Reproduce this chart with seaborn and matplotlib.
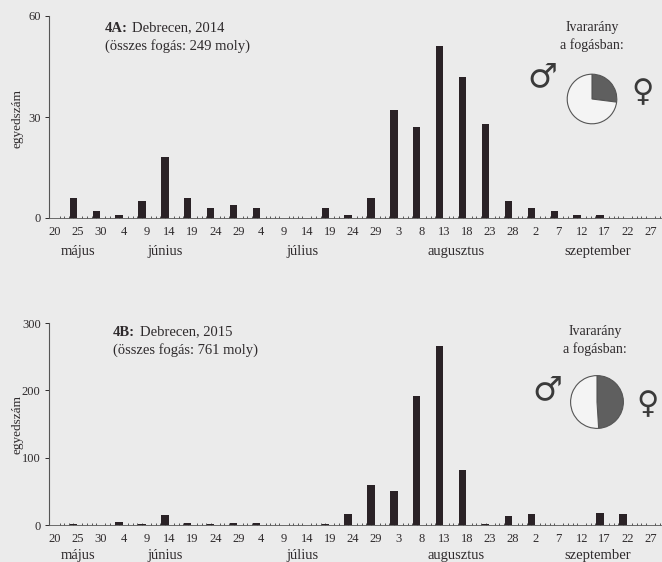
import numpy as np
import pandas as pd
import matplotlib
matplotlib.use("Agg")
import matplotlib.pyplot as plt
import seaborn as sns

# ---------------- data ----------------
tick_labels = ["20", "25", "30", "4", "9", "14", "19", "24", "29",
               "4", "9", "14", "19", "24", "29",
               "3", "8", "13", "18", "23", "28",
               "2", "7", "12", "17", "22", "27"]
month_names = ["május", "június", "július", "augusztus", "szeptember"]
counts_2014 = [0, 6, 2, 1, 5, 18, 6, 3, 4, 3, 0, 0, 3, 1, 6,
               32, 27, 51, 42, 28, 5, 3, 2, 1, 1, 0, 0]
counts_2015 = [0, 2, 0, 5, 1, 15, 3, 2, 3, 3, 0, 0, 1, 17, 60,
               51, 191, 266, 82, 1, 14, 17, 0, 0, 18, 16, 0]
female_share = [0.27, 0.49]   # 2014, 2015
titles = ["4A", "4B"]
subtitles = ["Debrecen, 2014", "Debrecen, 2015"]
totals = [249, 761]

# ---------------- style ----------------
BG = "#ebebeb"
INK = "#2e2a2c"
BAR = "#2a2226"
sns.set_theme(style="ticks")
plt.rcParams["font.family"] = ["Liberation Serif", "DejaVu Serif"]
plt.rcParams["text.color"] = INK
plt.rcParams["axes.labelcolor"] = INK
plt.rcParams["xtick.color"] = INK
plt.rcParams["ytick.color"] = INK
plt.rcParams["axes.edgecolor"] = "#555555"

W, H = 662, 562
fig = plt.figure(figsize=(W / 100, H / 100), dpi=100, facecolor=BG)

def fx(px):
    return px / W

def fy(py):
    return 1 - py / H

panels = [
    dict(counts=counts_2014, ymax=60, yticks=[0, 30, 60], y0=218, ytop=16,
         title_xy=(105, 28), ylab_y=118, month_y=252,
         ivar_xy=(592, 28), pie=(592, 99, 31), male=(542, 77), female=(643, 93)),
    dict(counts=counts_2015, ymax=300, yticks=[0, 100, 200, 300], y0=525, ytop=323,
         title_xy=(113, 332), ylab_y=425, month_y=555,
         ivar_xy=(595, 332), pie=(597, 402, 33), male=(547, 390), female=(648, 405)),
]

month_days = [5, 24, 54, 87.5, 118.5]
px_per_day = 4.58
x_left_px, x_right_px = 49, 661
tick0_px = 55
xmin = (x_left_px - tick0_px) / px_per_day
xmax = (x_right_px - tick0_px) / px_per_day

for k, p in enumerate(panels):
    ax = fig.add_axes([fx(x_left_px), fy(p["y0"]), fx(x_right_px - x_left_px),
                       (p["y0"] - p["ytop"]) / H])
    ax.set_facecolor("none")
    df = pd.DataFrame({
        "period": np.arange(len(tick_labels)),
        "n": p["counts"],
    })
    df["day"] = df["period"] * 5 - 1
    sns.barplot(data=df, x="day", y="n", native_scale=True, color=BAR,
                saturation=1, width=0.32, errorbar=None, linewidth=0, ax=ax)
    ax.set_xlim(xmin, xmax)
    ax.set_ylim(0, p["ymax"])
    ax.set_xticks(np.arange(len(tick_labels)) * 5)
    ax.set_xticklabels(tick_labels, fontsize=9)
    ax.set_xticks(np.arange(0, 133, 1), minor=True)
    ax.tick_params(axis="x", which="major", length=0, pad=6)
    ax.tick_params(axis="x", which="minor", length=1.6, width=0.7,
                   direction="in", color="#555555")
    ax.set_yticks(p["yticks"])
    ax.set_yticklabels([str(v) for v in p["yticks"]], fontsize=9)
    ax.tick_params(axis="y", length=3, width=0.7, pad=3)
    ax.spines["top"].set_visible(False)
    ax.spines["right"].set_visible(False)
    ax.spines["left"].set_linewidth(0.8)
    ax.spines["bottom"].set_linewidth(0.6)
    ax.set_xlabel("")
    ax.set_ylabel("")

    # y label
    fig.text(fx(18), fy(p["ylab_y"]), "egyedszám", rotation=90,
             ha="center", va="center", fontsize=9.5)
    # month labels
    for name, d in zip(month_names, month_days):
        fig.text(fx(tick0_px + d * px_per_day), fy(p["month_y"]), name,
                 ha="center", va="center", fontsize=10.5)

    # titles
    tx, ty = p["title_xy"]
    fig.text(fx(tx), fy(ty), titles[k] + ":", fontsize=10.5,
             fontweight="bold", ha="left", va="center")
    fig.text(fx(tx + 27), fy(ty), subtitles[k], fontsize=10.5,
             ha="left", va="center")
    fig.text(fx(tx), fy(ty + 18), f"(összes fogás: {totals[k]} moly)",
             fontsize=10.5, ha="left", va="center")

    # sex ratio
    ix, iy = p["ivar_xy"]
    fig.text(fx(ix), fy(iy), "Ivararány", fontsize=10, ha="center", va="center")
    fig.text(fx(ix), fy(iy + 17), "a fogásban:", fontsize=10, ha="center",
             va="center")
    cx, cy, r = p["pie"]
    pax = fig.add_axes([fx(cx - r), fy(cy + r), fx(2 * r), 2 * r / H])
    fs = female_share[k]
    pax.pie([fs, 1 - fs], colors=["#5f5f5f", "#f4f4f4"], startangle=90,
            counterclock=False,
            wedgeprops=dict(edgecolor="#555555", linewidth=0.8))
    pax.set_aspect("equal")
    mx, my = p["male"]
    fig.text(fx(mx), fy(my), "♂", fontsize=24, ha="center", va="center",
             family="DejaVu Sans", color="#3a3a3a")
    ffx, ffy = p["female"]
    fig.text(fx(ffx), fy(ffy), "♀", fontsize=22, ha="center", va="center",
             family="DejaVu Sans", color="#3a3a3a")

fig.savefig("out.png", dpi=100, facecolor=BG)
